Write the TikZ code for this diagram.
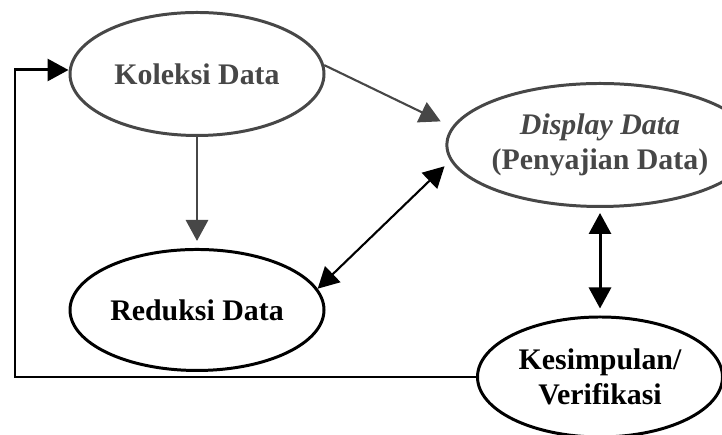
\documentclass[tikz,border=0pt]{standalone}
\usepackage{fontspec}
\setmainfont{Liberation Serif}
\usepackage{xcolor}
\usepackage{tikz}
\usetikzlibrary{shapes.geometric, arrows.meta, positioning, calc}
\colorlet{faded}{black!72}
\tikzset{
  % Stage ellipses
  stage/.style={ellipse, draw=#1, text=#1, line width=1.7pt, inner sep=0pt, minimum width=5.08cm, minimum height=2.46cm, text centered, align=center, font=\fontsize{17}{20}\selectfont\bfseries},
  stage/.default={black},
  % Connectors
  arrow/.style={-{Triangle[length=4.2mm, width=4.4mm]}, line width=1.7pt},
  dblarrow/.style={{Triangle[length=4.2mm, width=4.4mm]}-{Triangle[length=4.2mm, width=4.4mm]}, line width=1.7pt},
}
\begin{document}
\begin{tikzpicture}
    \useasboundingbox (0,0) rectangle (14.44,8.7);

    % Koleksi Data
    \node[stage=faded] (koleksi) at (3.94,7.22) {Koleksi Data};

    % Reduksi Data
    \node[stage, below=2.22cm of koleksi, minimum height=2.42cm] (reduksi) {Reduksi Data};

    % Display Data
    \node[stage=faded, minimum width=4.88cm] (display) at (12.0,5.8) {{\itshape Display Data}\\(Penyajian Data)};

    % Kesimpulan
    \node[stage, minimum width=4.9cm, minimum height=2.4cm] (kesimpulan) at (12.0,1.16) {Kesimpulan/\\Verifikasi};

    % Left side of the loop
    \coordinate (back) at (0.3,0);

    % Arrows
    \draw[arrow, faded, shorten >=0.14cm] (koleksi) -- (reduksi);
    \draw[arrow, faded, line width=1.2pt, shorten >=0.25cm] (koleksi.4) -- (display.173);
    \draw[dblarrow, line width=1.2pt, shorten >=0.16cm] (reduksi.10) -- (display.186);
    \draw[dblarrow, shorten <=0.1cm, shorten >=0.14cm] (display) -- (kesimpulan);
    \draw[arrow] (kesimpulan.west) -- (kesimpulan.west -| back) |- ($(koleksi.west)+(0,0.08)$);
  \end{tikzpicture}
\end{document}
